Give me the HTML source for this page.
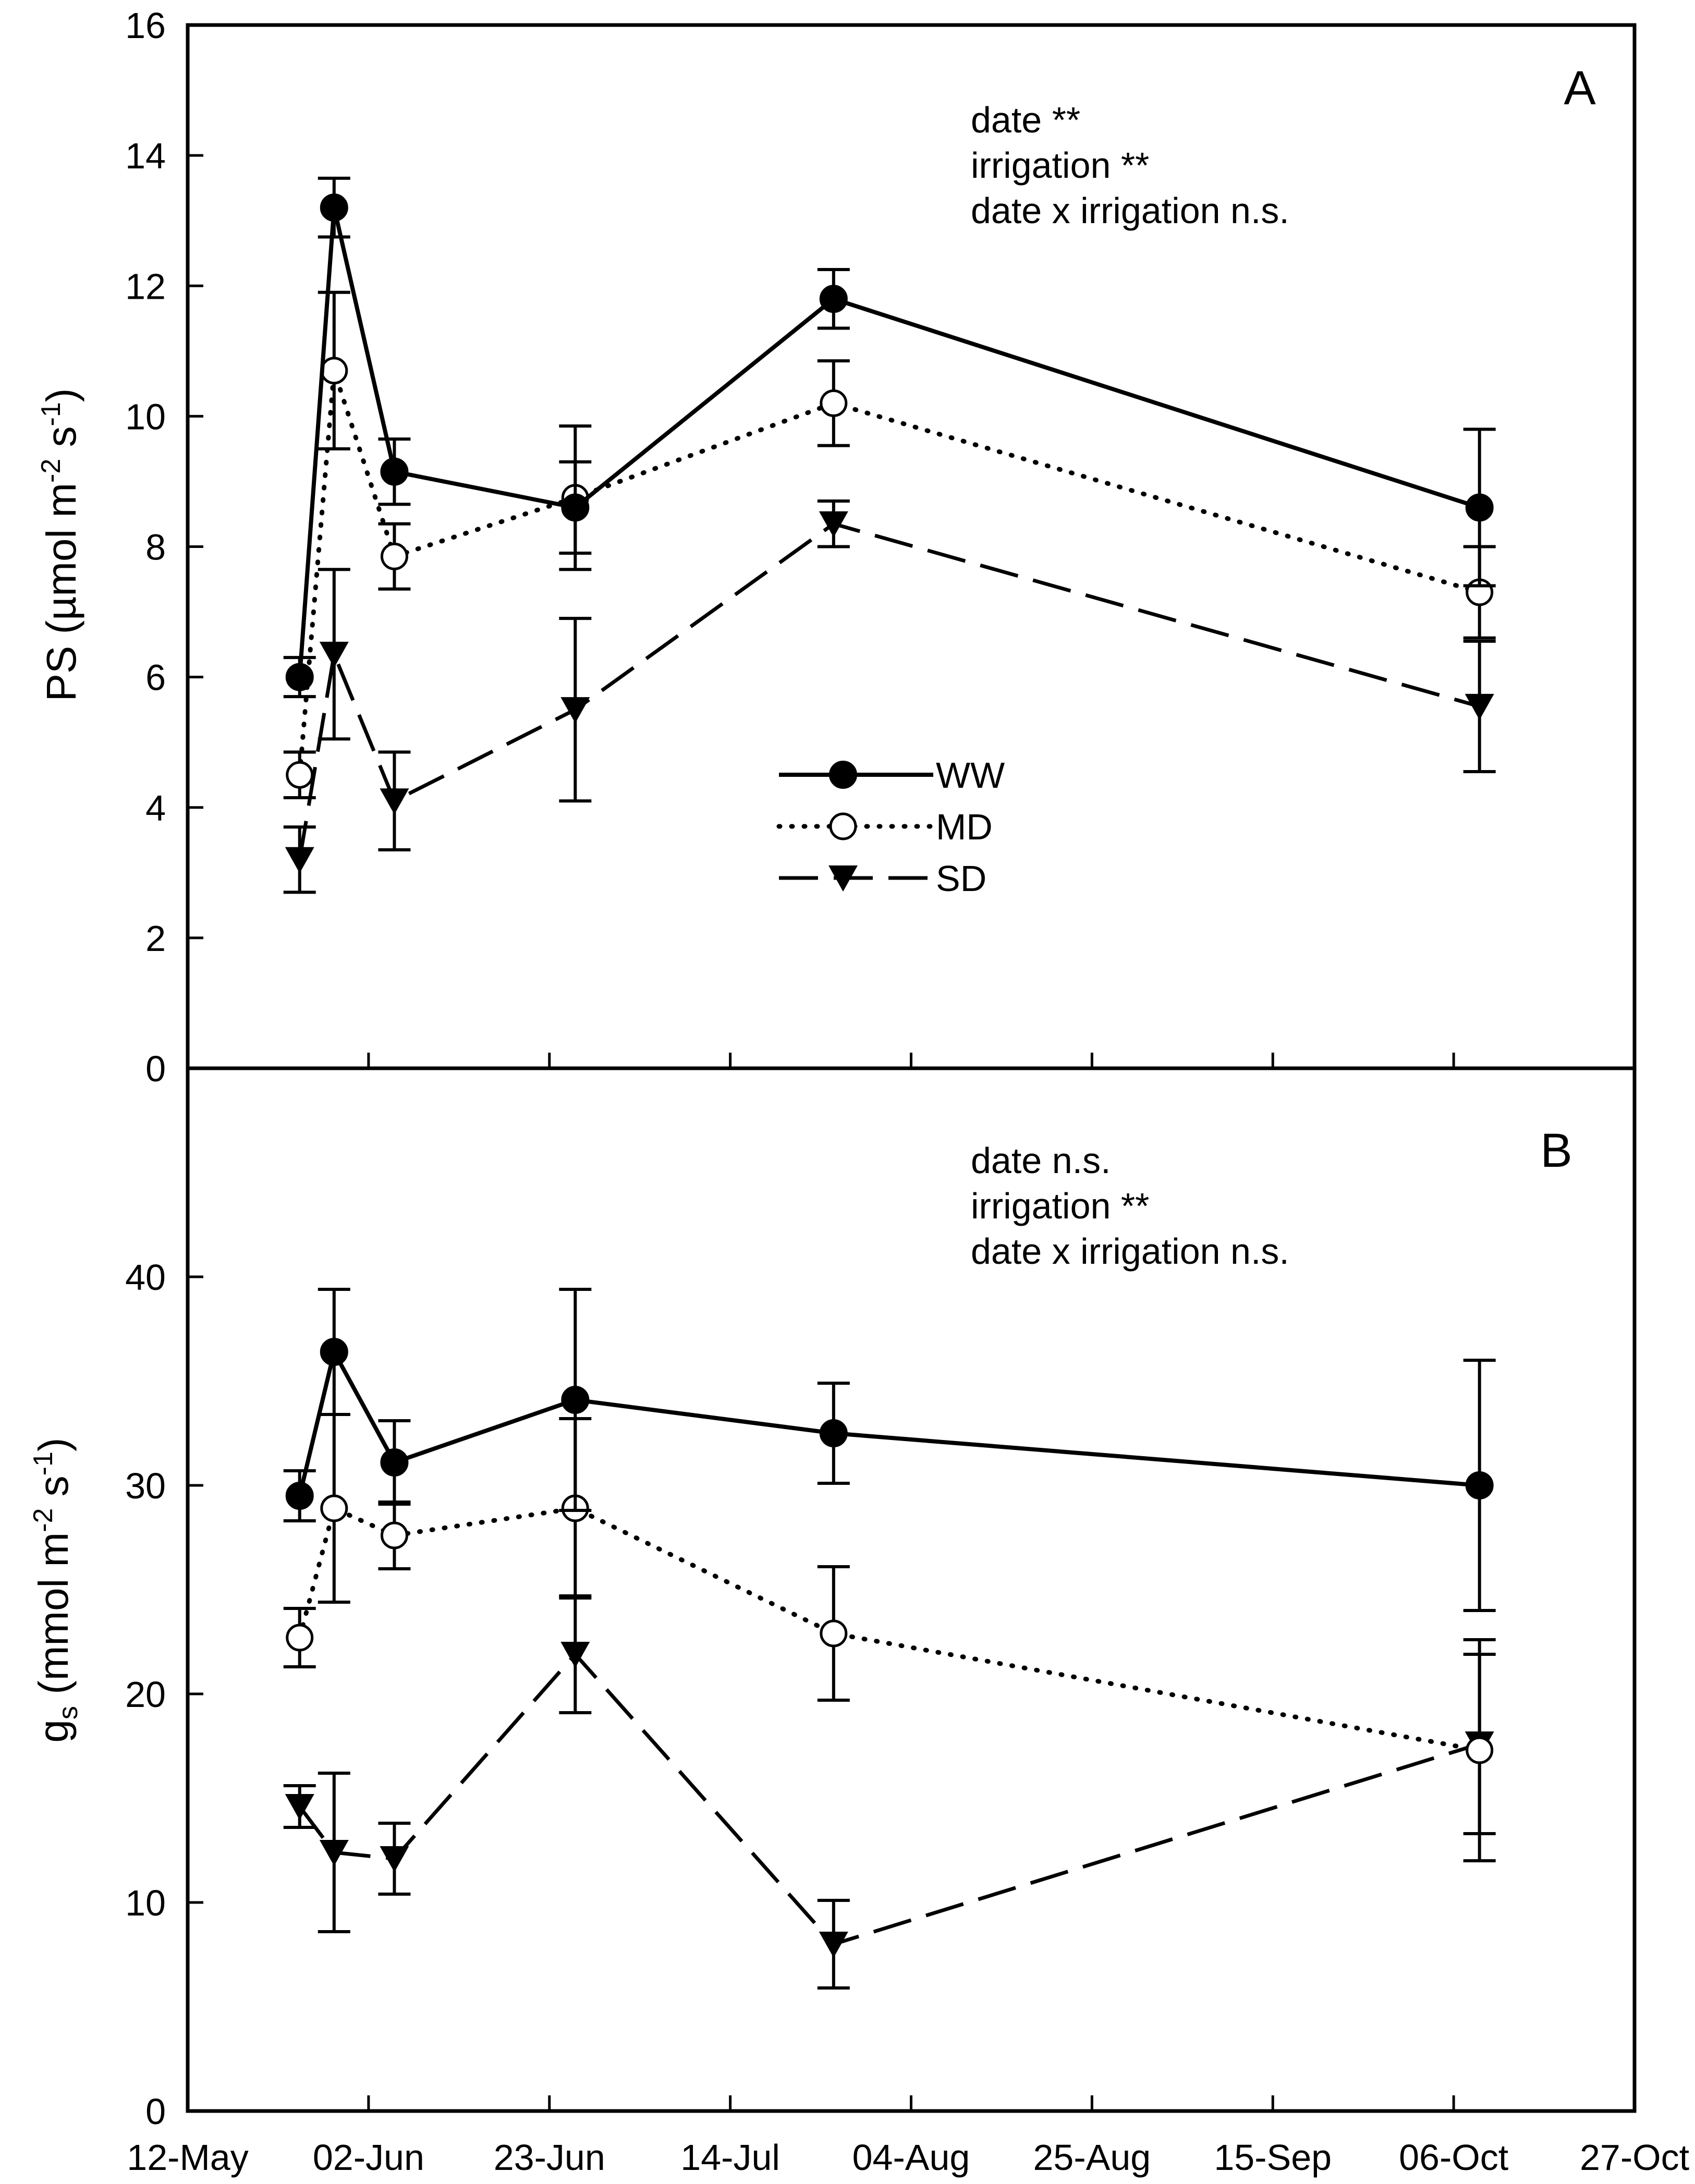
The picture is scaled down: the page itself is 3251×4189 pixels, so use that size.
<!DOCTYPE html>
<html><head><meta charset="utf-8"><style>
html,body{margin:0;padding:0;background:#fff;}
svg{display:block;font-family:"Liberation Sans",sans-serif;}
</style></head><body>
<svg id="chart" width="3251" height="4189" viewBox="0 0 3251 4189" xmlns="http://www.w3.org/2000/svg"></svg>
<script>
// ---- data ----
const dates = [13, 17, 24, 45, 75, 150]; // days after 12-May
const xTickLabels = ["12-May","02-Jun","23-Jun","14-Jul","04-Aug","25-Aug","15-Sep","06-Oct","27-Oct"];
const xTickDays = [0,21,42,63,84,105,126,147,168];
const psWW = [6.0, 13.2, 9.15, 8.6, 11.8, 8.6];
const psWWerr = [0.3, 0.45, 0.5, 0.7, 0.45, 1.2];
const psMD = [4.5, 10.7, 7.85, 8.75, 10.2, 7.3];
const psMDerr = [0.35, 1.2, 0.5, 1.1, 0.65, 0.7];
const psSD = [3.2, 6.35, 4.1, 5.5, 8.35, 5.55];
const psSDerr = [0.5, 1.3, 0.75, 1.4, 0.35, 1.0];
const gsWW = [29.5, 36.4, 31.1, 34.1, 32.5, 30.0];
const gsWWerr = [1.2, 3.0, 2.0, 5.3, 2.4, 6.0];
const gsMD = [22.7, 28.9, 27.6, 28.9, 22.9, 17.3];
const gsMDerr = [1.4, 4.5, 1.6, 4.3, 3.2, 5.3];
const gsSD = [14.6, 12.4, 12.1, 21.9, 8.0, 17.6];
const gsSDerr = [1.0, 3.8, 1.7, 2.8, 2.1, 4.3];
const psTicks = [0,2,4,6,8,10,12,14,16];
const gsTicks = [0,10,20,30,40];

const NS="http://www.w3.org/2000/svg";
const svg=document.getElementById('chart');
const L=360,R=3135,T=48,M=2049,B=4049;
const xS=d=>L+(d/168)*(R-L);
const yPS=v=>M-(v/16)*(M-T);
const yGS=v=>B-(v/50)*(B-M);
function el(tag,attrs,parent){const e=document.createElementNS(NS,tag);for(const k in attrs)e.setAttribute(k,attrs[k]);(parent||svg).appendChild(e);return e;}

function frame(top,bot,name){
  const r=el('rect',{x:L,y:top,width:R-L,height:bot-top,fill:'none',stroke:'#000','stroke-width':7});
  
  
}
frame(T,M,'panel-a-frame');
frame(M,B,'panel-b-frame');

xTickDays.forEach((d,i)=>{
  if(i>0&&i<xTickDays.length-1){
    [M,B].forEach(yb=>{
      const t=el('line',{x1:xS(d),x2:xS(d),y1:yb,y2:yb-30,stroke:'#000','stroke-width':5});
      
      
    });
  }
  const tx=el('text',{x:xS(d),y:4162,'font-size':70,'text-anchor':'middle'});
  tx.textContent=xTickLabels[i];
  
  
});
function yTicks(ticks,ys,skipTop){
  ticks.forEach((v,i)=>{
    const y=ys(v);
    if(!(skipTop&&i===ticks.length-1)&&v!==0){
      const t=el('line',{x1:L,x2:L+30,y1:y,y2:y,stroke:'#000','stroke-width':5});
      
      
    }
    const tx=el('text',{x:318,y:y+25,'font-size':70,'text-anchor':'end'});
    tx.textContent=v;
    
    
  });
}
yTicks(psTicks,yPS,true);
yTicks(gsTicks,yGS,false);

const yt1=el('text',{transform:'translate(145,1045) rotate(-90)','font-size':80,'text-anchor':'middle'});
yt1.innerHTML='PS (µmol m<tspan dy="-30" font-size="52">-2</tspan><tspan dy="30"> s</tspan><tspan dy="-30" font-size="52">-1</tspan><tspan dy="30">)</tspan>';


const yt2=el('text',{transform:'translate(130,3050) rotate(-90)','font-size':80,'text-anchor':'middle'});
yt2.innerHTML='g<tspan dy="18" font-size="52">s</tspan><tspan dy="-18"> (mmol m</tspan><tspan dy="-30" font-size="52">-2</tspan><tspan dy="30"> s</tspan><tspan dy="-30" font-size="52">-1</tspan><tspan dy="30">)</tspan>';



function marker(type,x,y,g){
  if(type==='WW') return el('circle',{cx:x,cy:y,r:25,fill:'#000',stroke:'#000','stroke-width':4},g);
  if(type==='MD') return el('circle',{cx:x,cy:y,r:24,fill:'#fff',stroke:'#000','stroke-width':5},g);
  return el('polygon',{points:`${x-28},${y-24} ${x+28},${y-24} ${x},${y+26}`,fill:'#000'},g);
}
const dashes={WW:'none',MD:'2 22',SD:'75 30'};
const widths={WW:8,MD:9,SD:7};
function series(vals,errs,ys,type,name){
  const g=el('g',{});
  
  
  vals.forEach((v,i)=>{
    const x=xS(dates[i]),y1=ys(v+errs[i]),y2=ys(v-errs[i]);
    const e=el('path',{d:`M${x},${y1}V${y2}M${x-31},${y1}H${x+31}M${x-31},${y2}H${x+31}`,stroke:'#000','stroke-width':6,fill:'none'},g);
    
    
  });
  const pts=vals.map((v,i)=>xS(dates[i])+','+ys(v)).join(' ');
  const pl=el('polyline',{points:pts,fill:'none',stroke:'#000','stroke-width':widths[type],'stroke-dasharray':dashes[type],'stroke-linecap':type==='MD'?'round':'butt'},g);
  
  
  vals.forEach((v,i)=>{
    const m=marker(type,xS(dates[i]),ys(v),g);
    
    
  });
}
series(psSD,psSDerr,yPS,'SD','ps-sd-series');
series(psMD,psMDerr,yPS,'MD','ps-md-series');
series(psWW,psWWerr,yPS,'WW','ps-ww-series');
series(gsSD,gsSDerr,yGS,'SD','gs-sd-series');
series(gsMD,gsMDerr,yGS,'MD','gs-md-series');
series(gsWW,gsWWerr,yGS,'WW','gs-ww-series');

const lg=el('g',{});


[['WW',1486],['MD',1585],['SD',1684]].forEach(([t,y])=>{
  el('line',{x1:1494,x2:1790,y1:y,y2:y,stroke:'#000','stroke-width':widths[t],'stroke-dasharray':dashes[t],'stroke-linecap':t==='MD'?'round':'butt'},lg);
  const m=marker(t,1617,y,lg);
  
  
  const tx=el('text',{x:1795,y:y+25,'font-size':70},lg);
  tx.textContent=t;
  
  
});

function notes(lines,y0,name){
  lines.forEach((s,i)=>{
    const tx=el('text',{x:1862,y:y0+i*87,'font-size':70});
    tx.textContent=s;
    
    
  });
}
notes(['date **','irrigation **','date x irrigation n.s.'],254,'stats-annotation-a');
notes(['date n.s.','irrigation **','date x irrigation n.s.'],2250,'stats-annotation-b');
const la=el('text',{x:3030,y:200,'font-size':92,'text-anchor':'middle'});la.textContent='A';


const lb=el('text',{x:2985,y:2238,'font-size':92,'text-anchor':'middle'});lb.textContent='B';


</script>
</body></html>
